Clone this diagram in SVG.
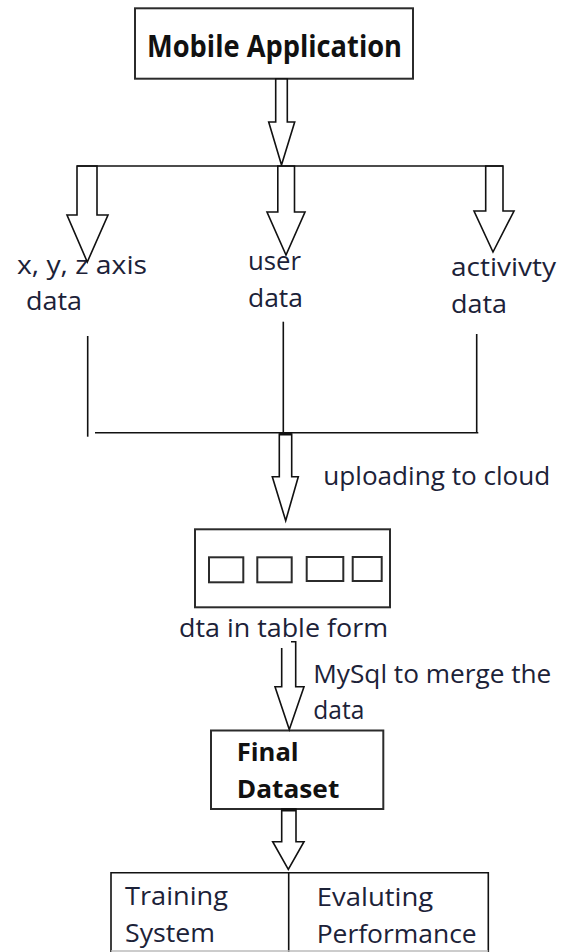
<svg xmlns="http://www.w3.org/2000/svg" width="569" height="952" viewBox="0 0 569 952">
<style>
.box{fill:#fff;stroke:#2b2b2b;stroke-width:2}
.cell{fill:#fff;stroke:#2b2b2b;stroke-width:2}
.arrow{fill:#fff;stroke:#111;stroke-width:1.6;stroke-linejoin:miter}
.ln{stroke:#111;stroke-width:1.6;fill:none}
.t{font-family:"Open Sans","Noto Sans",sans-serif;font-size:25px;fill:#1c2238}
.b{font-weight:bold;fill:#111}
.title{font-size:30px}
</style>
<rect width="569" height="952" fill="#fff"/>

<g id="node-mobile">
  <rect class="box" x="135" y="8.3" width="278" height="70.4"/>
  <text class="t b title" x="147" y="57.3" textLength="255" lengthAdjust="spacingAndGlyphs">Mobile Application</text>
</g>

<g id="node-xyz">
  <text class="t" x="17" y="273.5" textLength="130" lengthAdjust="spacingAndGlyphs">x, y, z axis</text>
  <text class="t" x="26" y="310" textLength="56" lengthAdjust="spacingAndGlyphs">data</text>
</g>

<g id="node-user">
  <text class="t" x="248" y="270" textLength="53" lengthAdjust="spacingAndGlyphs">user</text>
  <text class="t" x="248" y="306.7" textLength="55" lengthAdjust="spacingAndGlyphs">data</text>
</g>

<g id="node-activity">
  <text class="t" x="451" y="275.7" textLength="105" lengthAdjust="spacingAndGlyphs">activivty</text>
  <text class="t" x="451" y="313" textLength="56" lengthAdjust="spacingAndGlyphs">data</text>
</g>

<g id="node-table">
  <rect class="box" x="195" y="529.3" width="195" height="78"/>
  <rect class="cell" x="209" y="557.3" width="34.3" height="25"/>
  <rect class="cell" x="257.3" y="557.3" width="34.4" height="25"/>
  <rect class="cell" x="306.7" y="557" width="36.6" height="24"/>
  <rect class="cell" x="352.7" y="557" width="29" height="24"/>
  <text class="t" x="179" y="636.7" textLength="209" lengthAdjust="spacingAndGlyphs">dta in table form</text>
</g>

<g id="node-final">
  <rect class="box" x="211" y="730.5" width="172.3" height="78.5"/>
  <text class="t b" x="236.7" y="761" textLength="62" lengthAdjust="spacingAndGlyphs">Final</text>
  <text class="t b" x="236.7" y="798.3" textLength="102.6" lengthAdjust="spacingAndGlyphs">Dataset</text>
</g>

<g id="node-training">
  <path class="ln" d="M111,952 V872.7 H288.7 V952" stroke="#2b2b2b" stroke-width="2"/>
  <text class="t" x="125" y="905" textLength="103" lengthAdjust="spacingAndGlyphs">Training</text>
  <text class="t" x="125" y="941.7" textLength="90" lengthAdjust="spacingAndGlyphs">System</text>
</g>

<g id="node-evaluating">
  <path class="ln" d="M288.7,872.7 H488.3 V952" stroke="#2b2b2b" stroke-width="2"/>
  <line x1="111" y1="951" x2="488.3" y2="951" stroke="#bbb" stroke-width="1.5"/>
  <text class="t" x="316.7" y="906" textLength="116.6" lengthAdjust="spacingAndGlyphs">Evaluting</text>
  <text class="t" x="316.7" y="943.3" textLength="160" lengthAdjust="spacingAndGlyphs">Performance</text>
</g>

<g id="connectors">
  <polygon class="arrow" points="275.7,79 275.7,122 268.7,122 281.5,165 294.7,122 287.3,122 287.3,79"/>
  <polygon class="arrow" points="77,166 77,215 67,215 87.3,262 108,215 97,215 97,166"/>
  <polygon class="arrow" points="277.8,166 277.8,212 267,212 286,255 305,212 294.5,212 294.5,166"/>
  <polygon class="arrow" points="485.7,166 485.7,211 474,211 493,252 514,211 503,211 503,166"/>
  <line class="ln" x1="77" y1="166" x2="503" y2="166"/>

  <line class="ln" x1="87.7" y1="336" x2="87.7" y2="436.7"/>
  <line class="ln" x1="283.3" y1="321.7" x2="283.3" y2="432.7"/>
  <line class="ln" x1="476.7" y1="334" x2="476.7" y2="432.7"/>
  <line class="ln" x1="95" y1="432.7" x2="478.3" y2="432.7"/>

  <polygon class="arrow" points="279.3,434 279.3,476.7 272.3,476.7 285.7,520.7 298.3,476.7 291.7,476.7 291.7,434"/>
  <line x1="279.3" y1="434" x2="291.7" y2="434" stroke="#111" stroke-width="3"/>
  <text class="t" x="323.3" y="485" textLength="227" lengthAdjust="spacingAndGlyphs">uploading to cloud</text>

  <polyline class="arrow" points="291,641.7 295.7,641.7 295.7,686.7 304,686.7 289.3,729.5 275,686.7 281.7,686.7 281.7,648"/>
  <text class="t" x="313.3" y="682.7" textLength="238" lengthAdjust="spacingAndGlyphs">MySql to merge the</text>
  <text class="t" x="313.3" y="719.3" textLength="51" lengthAdjust="spacingAndGlyphs">data</text>

  <polygon class="arrow" points="281.7,809 281.7,841.7 272.7,841.7 288.3,869.3 304,841.7 296,841.7 296,809"/>
  <line x1="281.7" y1="810" x2="296" y2="810" stroke="#111" stroke-width="3"/>
</g>
</svg>
